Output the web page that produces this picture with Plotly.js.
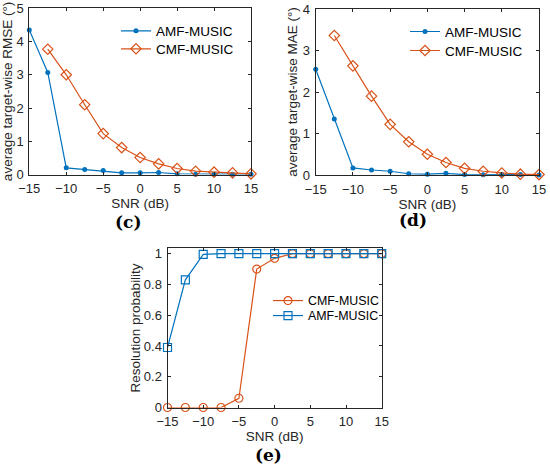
<!DOCTYPE html>
<html>
<head>
<meta charset="utf-8">
<script src="https://cdn.plot.ly/plotly-3.0.1.min.js"></script>
<style>html,body{margin:0;padding:0;background:#fff;}#plot{width:550px;height:468px;}</style>
</head>
<body>
<div id="plot"></div>
<script>
// SNR values (dB)
const snr = [-15, -12.5, -10, -7.5, -5, -2.5, 0, 2.5, 5, 7.5, 10, 12.5, 15];
const snrCmf = [-12.5, -10, -7.5, -5, -2.5, 0, 2.5, 5, 7.5, 10, 12.5, 15];

// (c) RMSE
const rmseAmf = [4.35, 3.07, 0.20, 0.15, 0.12, 0.05, 0.05, 0.06, 0.02, 0.01, 0.01, 0.01, 0.01];
const rmseCmf = [3.77, 3.00, 2.10, 1.23, 0.81, 0.51, 0.32, 0.18, 0.10, 0.07, 0.05, 0.02];

// (d) MAE
const maeAmf = [2.55, 1.35, 0.17, 0.12, 0.09, 0.03, 0.02, 0.04, 0.01, 0.005, 0.01, 0.01, 0.0];
const maeCmf = [3.36, 2.63, 1.90, 1.22, 0.80, 0.50, 0.30, 0.16, 0.09, 0.05, 0.02, 0.01];

// (e) Resolution probability
const probCmf = [0, 0, 0, 0, 0.06, 0.90, 0.97, 1, 1, 1, 1, 1, 1];
const probAmf = [0.39, 0.83, 0.995, 1, 1, 1, 1, 1, 1, 1, 1, 1, 1];

const xTicks = [-15, -10, -5, 0, 5, 10, 15];
const labelAmf = 'AMF-MUSIC';
const labelCmf = 'CMF-MUSIC';
const panelLabels = ['(c)', '(d)', '(e)'];

const BLUE = '#0072BD';
const ORANGE = '#D95319';
const AX = '#262626';
const FONT = 'Liberation Sans, Arial, sans-serif';

function tr(x, y, name, ax, leg, color, sym, size, filled) {
  return {x: x, y: y, name: name, mode: 'lines+markers', xaxis: 'x' + ax, yaxis: 'y' + ax, legend: leg,
    cliponaxis: false, line: {color: color, width: 1.2},
    marker: filled ? {symbol: sym, size: size, color: color} : {symbol: sym, size: size, color: color, line: {width: 1.2, color: color}}};
}

const traces = [
  tr(snr, rmseAmf, labelAmf, '', 'legend', BLUE, 'circle', 5, true),
  tr(snrCmf, rmseCmf, labelCmf, '', 'legend4', ORANGE, 'diamond-open', 8, false),
  tr(snr, maeAmf, labelAmf, '2', 'legend2', BLUE, 'circle', 5, true),
  tr(snrCmf, maeCmf, labelCmf, '2', 'legend5', ORANGE, 'diamond-open', 8, false),
  tr(snr, probCmf, labelCmf, '3', 'legend3', ORANGE, 'circle-open', 8, false),
  tr(snr, probAmf, labelAmf, '3', 'legend6', BLUE, 'square-open', 8, false)
];

function xax(domain, anchor) {
  return {domain: domain, anchor: anchor, range: [-15, 15], tickvals: xTicks, showgrid: false, zeroline: false,
    showline: true, linecolor: AX, linewidth: 1, mirror: 'ticks', ticks: 'inside', ticklen: 3, tickcolor: AX,
    tickfont: {family: FONT, size: 13, color: AX}, ticklabelstandoff: 2,
    title: {text: 'SNR (dB)', font: {family: FONT, size: 13.5, color: AX}, standoff: 0}};
}
function yax(domain, anchor, range, dtick, title, standoff) {
  return {domain: domain, anchor: anchor, range: range, dtick: dtick, tick0: 0, showgrid: false, zeroline: false,
    showline: true, linecolor: AX, linewidth: 1, mirror: 'ticks', ticks: 'inside', ticklen: 3, tickcolor: AX,
    tickfont: {family: FONT, size: 13, color: AX}, ticklabelstandoff: 2,
    title: {text: title, font: {family: FONT, size: 13.5, color: AX}, standoff: standoff}};
}

function leg(xpx, ypx, size) {
  return {x: xpx/550, y: 1-ypx/468, xanchor: 'left', yanchor: 'middle', bgcolor: 'rgba(0,0,0,0)', borderwidth: 0,
    font: {family: FONT, size: size, color: '#000'}, itemwidth: 30, tracegroupgap: 0};
}
function panel(i, xpx, ypx) {
  return {text: '<b>' + panelLabels[i] + '</b>', x: xpx/550, y: 1-ypx/468, xref: 'paper', yref: 'paper', showarrow: false,
    xanchor: 'center', yanchor: 'middle', font: {family: 'DejaVu Serif, serif', size: 17, color: '#000'}};
}

const layout = {
  width: 550, height: 468,
  margin: {l: 0, r: 0, t: 0, b: 0},
  paper_bgcolor: '#fff', plot_bgcolor: '#fff',
  showlegend: true,
  xaxis: xax([29.3/550, 251/550], 'y'),
  yaxis: yax([1-174.5/468, 1-8.3/468], 'x', [0, 5], 1, 'average target-wise RMSE (°)', 0),
  xaxis2: xax([315.7/550, 539/550], 'y2'),
  yaxis2: yax([1-175/468, 1-9/468], 'x2', [0, 4], 1, 'average target-wise MAE (°)', 2),
  xaxis3: xax([167.5/550, 381.7/550], 'y3'),
  yaxis3: yax([1-407.5/468, 1-248.3/468], 'x3', [0, 1.035], 0.2, 'Resolution probability', 0),
  legend: leg(116, 31, 13.5),
  legend4: leg(116, 49, 13.5),
  legend2: leg(405, 31.7, 13.5),
  legend5: leg(405, 50.7, 13.5),
  legend3: leg(268, 301, 12.4),
  legend6: leg(268, 316, 12.4),
  annotations: [panel(0, 128, 222), panel(1, 413, 220), panel(2, 268, 455)]
};

Plotly.newPlot('plot', traces, layout, {staticPlot: true, displayModeBar: false});
</script>
</body>
</html>
